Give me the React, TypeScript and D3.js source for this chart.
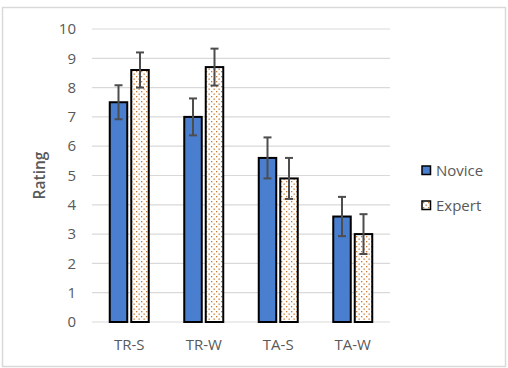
import { useEffect, useRef } from "react";
import * as d3 from "d3";

const categories = ["TR-S", "TR-W", "TA-S", "TA-W"];
const seriesNames = ["Novice", "Expert"];
const noviceValues = [7.5, 7.0, 5.6, 3.6];
const expertValues = [8.6, 8.7, 4.9, 3.0];
const noviceErrors = [0.58, 0.63, 0.7, 0.67];
const expertErrors = [0.6, 0.63, 0.7, 0.68];
const yTicks = [0, 1, 2, 3, 4, 5, 6, 7, 8, 9, 10];

export default function App() {
  const svgRef = useRef<SVGSVGElement>(null);

  useEffect(() => {
    const width = 508;
    const height = 368;
    const font = "'Open Sans', 'Noto Sans', sans-serif";
    const textColor = "#595959";

    const svg = d3.select(svgRef.current);
    svg.selectAll("*").remove();
    svg.attr("width", width).attr("height", height);

    // dotted fill for the second series
    const defs = svg.append("defs");
    const pat = defs
      .append("pattern")
      .attr("id", "dots")
      .attr("patternUnits", "userSpaceOnUse")
      .attr("width", 5)
      .attr("height", 5);
    pat.append("rect").attr("width", 5).attr("height", 5).attr("fill", "#ffffff");
    pat.append("rect").attr("x", 1).attr("y", 1).attr("width", 1.3).attr("height", 1.3).attr("fill", "#c8782e");
    pat.append("rect").attr("x", 3.5).attr("y", 3.5).attr("width", 1.3).attr("height", 1.3).attr("fill", "#c8782e");

    svg
      .append("rect")
      .attr("x", 2.5)
      .attr("y", 7.5)
      .attr("width", 503)
      .attr("height", 359)
      .attr("fill", "#fff")
      .attr("stroke", "#d9d9d9")
      .attr("stroke-width", 1.5);

    const x0 = d3.scaleBand().domain(categories).range([92, 390]);
    const y = d3.scaleLinear().domain([0, 10]).range([322, 29]);

    const g = svg.append("g");

    g.selectAll("line.grid")
      .data(yTicks)
      .enter()
      .append("line")
      .attr("x1", 92)
      .attr("x2", 390)
      .attr("y1", (d) => y(d))
      .attr("y2", (d) => y(d))
      .attr("stroke", "#d9d9d9")
      .attr("stroke-width", 1.2);

    g.selectAll("text.ytick")
      .data(yTicks)
      .enter()
      .append("text")
      .attr("x", 76)
      .attr("y", (d) => y(d))
      .attr("dy", "0.35em")
      .attr("text-anchor", "end")
      .attr("font-family", font)
      .attr("font-size", 15)
      .attr("fill", textColor)
      .text((d) => d);

    g.append("text")
      .attr("transform", `translate(45,${(y(0) + y(10)) / 2}) rotate(-90)`)
      .attr("text-anchor", "middle")
      .attr("font-family", font)
      .attr("font-size", 15.5)
      .attr("font-weight", 600)
      .attr("fill", textColor)
      .text("Rating");

    g.selectAll("text.xtick")
      .data(categories)
      .enter()
      .append("text")
      .attr("x", (d) => x0(d)! + x0.bandwidth() / 2)
      .attr("y", 350)
      .attr("text-anchor", "middle")
      .attr("font-family", font)
      .attr("font-size", 15)
      .attr("fill", textColor)
      .text((d) => d);

    const barW = 17.5;
    const gap = 4;
    const series = [
      { name: seriesNames[0], values: noviceValues, errors: noviceErrors, fill: "#4a7fcf", offset: -(barW + gap) / 2 },
      { name: seriesNames[1], values: expertValues, errors: expertErrors, fill: "url(#dots)", offset: (barW + gap) / 2 },
    ];

    series.forEach((s) => {
      const cx = (i: number) => x0(categories[i])! + x0.bandwidth() / 2 + s.offset;
      g.selectAll(null)
        .data(s.values)
        .enter()
        .append("rect")
        .attr("x", (d, i) => cx(i) - barW / 2)
        .attr("y", (d) => y(d))
        .attr("width", barW)
        .attr("height", (d) => y(0) - y(d))
        .attr("fill", s.fill)
        .attr("stroke", "#000")
        .attr("stroke-width", 2);

      const eb = g
        .selectAll(null)
        .data(s.values)
        .enter()
        .append("g")
        .attr("stroke", "#4d4d4d")
        .attr("stroke-width", 2);
      eb.append("line")
        .attr("x1", (d, i) => cx(i))
        .attr("x2", (d, i) => cx(i))
        .attr("y1", (d, i) => y(d + s.errors[i]))
        .attr("y2", (d, i) => y(d - s.errors[i]));
      eb.append("line")
        .attr("x1", (d, i) => cx(i) - 4)
        .attr("x2", (d, i) => cx(i) + 4)
        .attr("y1", (d, i) => y(d + s.errors[i]))
        .attr("y2", (d, i) => y(d + s.errors[i]));
      eb.append("line")
        .attr("x1", (d, i) => cx(i) - 4)
        .attr("x2", (d, i) => cx(i) + 4)
        .attr("y1", (d, i) => y(d - s.errors[i]))
        .attr("y2", (d, i) => y(d - s.errors[i]));
    });

    // legend
    const legend = g
      .selectAll(null)
      .data(series)
      .enter()
      .append("g")
      .attr("transform", (d, i) => `translate(422,${166 + i * 35})`);
    legend
      .append("rect")
      .attr("width", 8.5)
      .attr("height", 8.5)
      .attr("fill", (d) => d.fill)
      .attr("stroke", "#000")
      .attr("stroke-width", 1.5);
    legend
      .append("text")
      .attr("x", 14)
      .attr("y", 4.5)
      .attr("dy", "0.35em")
      .attr("font-family", font)
      .attr("font-size", 15)
      .attr("fill", textColor)
      .text((d) => d.name);
  }, []);

  return <svg ref={svgRef} style={{ position: "absolute", left: 0, top: 0 }} />;
}
